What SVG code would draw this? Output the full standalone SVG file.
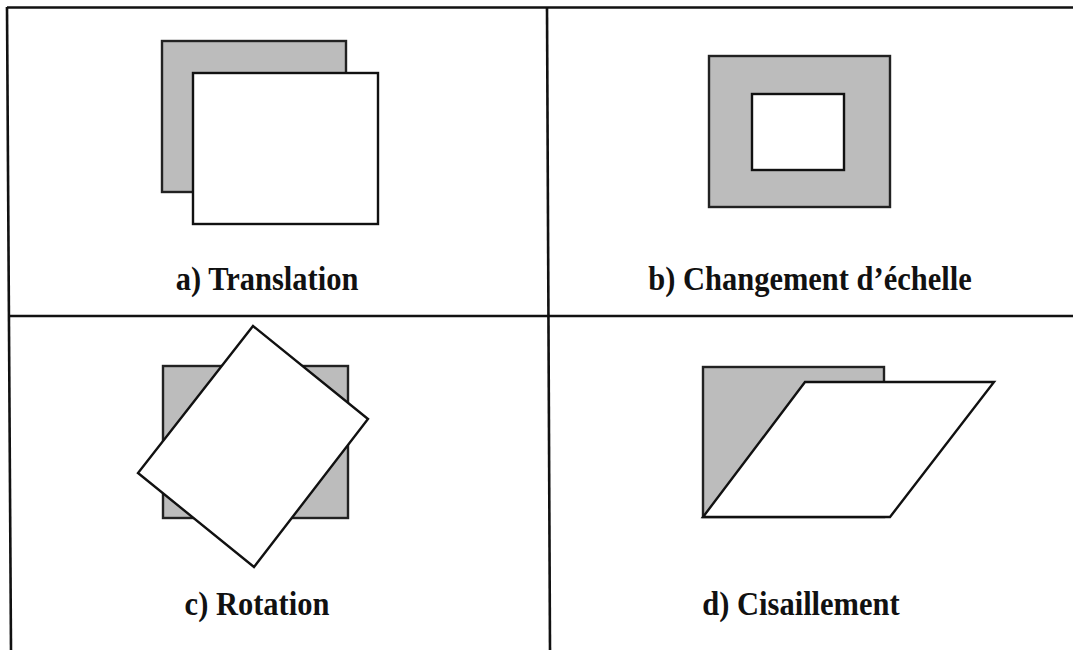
<svg xmlns="http://www.w3.org/2000/svg" width="1073" height="650" viewBox="0 0 1073 650">
<style>
.grid{stroke:#111;stroke-width:2.6;fill:none}
.orig{fill:#bcbcbc;stroke:#222;stroke-width:2.4}
.img{fill:#fff;stroke:#111;stroke-width:2.4}
.lbl{font-family:"Liberation Serif","DejaVu Serif",serif;font-weight:bold;font-size:30.5px;fill:#111;text-anchor:middle}
</style>
<rect width="1073" height="650" fill="#fff"/>
<g id="table" class="grid">
<line x1="7" y1="7.5" x2="1073" y2="7.5"/>
<line x1="7" y1="7" x2="11" y2="650"/>
<line x1="547" y1="7" x2="550" y2="650"/>
<line x1="8" y1="316" x2="1073" y2="316"/>
</g>
<g id="translation">
<rect class="orig" x="162" y="41" width="184" height="151"/>
<rect class="img" x="193" y="73" width="185" height="151"/>
<text class="lbl" transform="translate(267,290) scale(1,1.13)">a) Translation</text>
</g>
<g id="echelle">
<rect class="orig" x="709" y="56" width="181" height="151"/>
<rect class="img" x="752" y="94" width="92" height="76"/>
<text class="lbl" transform="translate(810,290) scale(1,1.13)">b) Changement d’échelle</text>
</g>
<g id="rotation">
<rect class="orig" x="163" y="366" width="185" height="152"/>
<polygon class="img" points="253,326 368,419 254,567 138,473"/>
<text class="lbl" transform="translate(257,615) scale(1,1.13)">c) Rotation</text>
</g>
<g id="cisaillement">
<rect class="orig" x="703" y="367" width="181" height="150"/>
<polygon class="img" points="805,382 994,382 890,517 703,517"/>
<text class="lbl" transform="translate(801,615) scale(1,1.13)">d) Cisaillement</text>
</g>
</svg>
